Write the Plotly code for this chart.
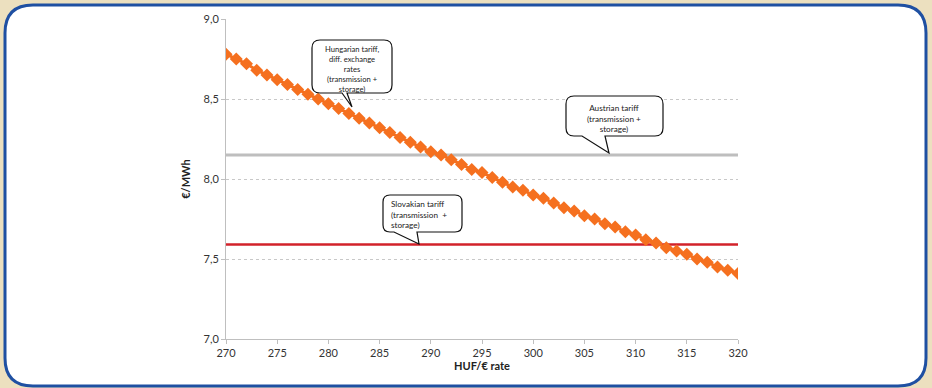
import plotly.graph_objects as go

# HUF/EUR exchange rate and the Hungarian tariff converted to EUR/MWh
huf_eur_rate = list(range(270, 321))
hungarian_tariff = [
    8.78, 8.75, 8.72, 8.68, 8.65, 8.62, 8.59, 8.56, 8.53, 8.50,
    8.47, 8.44, 8.41, 8.38, 8.35, 8.32, 8.29, 8.26, 8.23, 8.20,
    8.17, 8.15, 8.12, 8.09, 8.06, 8.04, 8.01, 7.98, 7.95, 7.93,
    7.90, 7.88, 7.85, 7.82, 7.80, 7.77, 7.75, 7.72, 7.70, 7.67,
    7.65, 7.62, 7.60, 7.57, 7.55, 7.53, 7.50, 7.48, 7.45, 7.43,
    7.41,
]
austrian_tariff = 8.15
slovakian_tariff = 7.59

x_ticks = [270, 275, 280, 285, 290, 295, 300, 305, 310, 315, 320]
y_ticks = [7.0, 7.5, 8.0, 8.5, 9.0]

W, H = 932, 388
L, R, T, B = 226, 194, 16, 49
PW, PH = W - L - R, H - T - B

FONT = "Lato, Carlito, Calibri, 'Open Sans', sans-serif"


def rel(px, py):
    """Screen pixel -> pixel offset from the plot's bottom-left corner."""
    return px - L, (H - B) - py


def path_from(cmds):
    # one command per segment: plotly's path parser takes a fixed count of
    # parameters for each command letter
    out = []
    for cmd, pts in cmds:
        coords = " ".join(f"{a:.1f},{b:.1f}" for a, b in (rel(*p) for p in pts))
        out.append(f"{cmd}{coords}")
    return " ".join(out) + " Z"


def rounded_rect(x0, y0, x1, y1, r):
    return path_from([
        ("M", [(x0 + r, y0)]),
        ("L", [(x1 - r, y0)]),
        ("Q", [(x1, y0), (x1, y0 + r)]),
        ("L", [(x1, y1 - r)]),
        ("Q", [(x1, y1), (x1 - r, y1)]),
        ("L", [(x0 + r, y1)]),
        ("Q", [(x0, y1), (x0, y1 - r)]),
        ("L", [(x0, y0 + r)]),
        ("Q", [(x0, y0), (x0 + r, y0)]),
    ])


def callout(x0, y0, x1, y1, r, base_l, base_r, tip):
    return path_from([
        ("M", [(x0 + r, y0)]),
        ("L", [(x1 - r, y0)]),
        ("Q", [(x1, y0), (x1, y0 + r)]),
        ("L", [(x1, y1 - r)]),
        ("Q", [(x1, y1), (x1 - r, y1)]),
        ("L", [(base_r, y1)]),
        ("L", [tip]),
        ("L", [(base_l, y1)]),
        ("L", [(x0 + r, y1)]),
        ("Q", [(x0, y1), (x0, y1 - r)]),
        ("L", [(x0, y0 + r)]),
        ("Q", [(x0, y0), (x0 + r, y0)]),
    ])


def pixel_shape(path, fill, line_color, line_width, layer):
    return dict(
        type="path", xref="paper", yref="paper",
        xsizemode="pixel", ysizemode="pixel", xanchor=0, yanchor=0,
        path=path, fillcolor=fill,
        line=dict(color=line_color, width=line_width), layer=layer,
    )


fig = go.Figure()

fig.add_trace(go.Scatter(
    x=huf_eur_rate, y=[austrian_tariff] * len(huf_eur_rate),
    mode="lines", line=dict(color="#BEBEBE", width=3),
    hoverinfo="skip", showlegend=False,
))
fig.add_trace(go.Scatter(
    x=huf_eur_rate, y=[slovakian_tariff] * len(huf_eur_rate),
    mode="lines", line=dict(color="#D2222A", width=2.5),
    hoverinfo="skip", showlegend=False,
))
fig.add_trace(go.Scatter(
    x=huf_eur_rate, y=hungarian_tariff,
    mode="lines+markers",
    line=dict(color="#F5701F", width=3),
    marker=dict(symbol="diamond", size=10, color="#F5701F"),
    showlegend=False,
))

shapes = [
    # white rounded panel with blue frame
    pixel_shape(rounded_rect(5, 5, 926, 386, 28), "white", "#1F50A2", 3, "below"),
    # callout bubbles
    pixel_shape(callout(312, 40, 392, 93, 8, 342, 347, (352, 107)),
                "white", "#111111", 1.2, "above"),
    pixel_shape(callout(566, 96, 663, 136, 8, 582, 605, (609, 153)),
                "white", "#111111", 1.2, "above"),
    pixel_shape(callout(383, 195, 462, 232, 7, 394, 417, (419, 244)),
                "white", "#111111", 1.2, "above"),
]


def px_paper(px, py):
    return (px - L) / PW, ((H - B) - py) / PH


annotations = []
for text, (cx, cy), align, anchor, size in [
    ("Hungarian tariff,<br>diff. exchange<br>rates<br>(transmission +<br>storage)",
     (352, 66), "center", "center", 7.6),
    ("Austrian tariff<br>(transmission +<br>storage)", (614, 116), "center", "center", 8.2),
    ("Slovakian tariff<br>(transmission  +<br>storage)", (389, 213.5), "left", "left", 8.2),
]:
    ax, ay = px_paper(cx, cy)
    annotations.append(dict(
        text=text, x=ax, y=ay, xref="paper", yref="paper",
        xanchor=anchor, yanchor="middle", align=align, showarrow=False,
        font=dict(family=FONT, size=size, color="#222222"),
    ))

fig.update_layout(
    width=W, height=H,
    margin=dict(l=L, r=R, t=T, b=B, pad=0),
    paper_bgcolor="#ECE0BF",
    plot_bgcolor="rgba(0,0,0,0)",
    separators=", ",
    font=dict(family=FONT, size=11, color="#333333"),
    shapes=shapes,
    annotations=annotations,
    xaxis=dict(
        range=[270, 320], tickvals=x_ticks, ticktext=[str(v) for v in x_ticks],
        showgrid=False, zeroline=False,
        showline=True, linecolor="#BFBFBF", linewidth=1,
        ticks="outside", ticklen=4, tickcolor="#BFBFBF",
        tickfont=dict(size=11, color="#333333"),
        title=dict(text="<b>HUF/€ rate</b>", font=dict(size=11, color="#222222"), standoff=4),
    ),
    yaxis=dict(
        range=[7.0, 9.0], tickvals=y_ticks, tickformat=".1f",
        showgrid=True, gridcolor="#C8C8C8", griddash="dot", gridwidth=1,
        zeroline=False,
        showline=True, linecolor="#BFBFBF", linewidth=1,
        ticks="outside", ticklen=4, tickcolor="#BFBFBF",
        tickfont=dict(size=11, color="#333333"),
        title=dict(text="<b>€/MWh</b>", font=dict(size=11, color="#222222"), standoff=10),
    ),
)

fig.write_html("out.html")
